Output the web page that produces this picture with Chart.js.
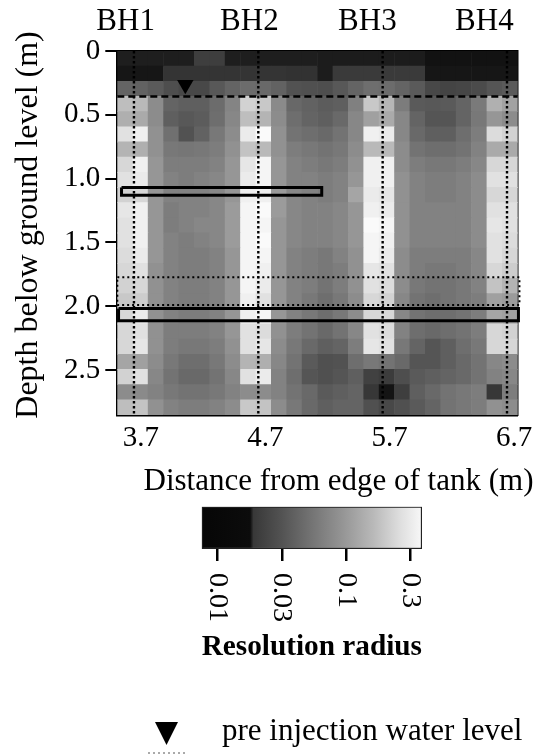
<!DOCTYPE html>
<html>
<head>
<meta charset="utf-8">
<script src="https://cdn.jsdelivr.net/npm/chart.js@4.4.1/dist/chart.umd.min.js"></script>
<style>
  html, body { margin: 0; padding: 0; background: #fff; }
  #wrap { position: relative; width: 550px; height: 754px; }
  #wrap canvas { position: absolute; left: 0; }
  #main { top: 0; }
  #bar { top: 480px; }
</style>
</head>
<body>
<div id="wrap">
  <canvas id="main" width="550" height="754"></canvas>
  <canvas id="bar" width="550" height="200"></canvas>
</div>
<script>
// Borehole positions along the tank and their header labels
const boreholes = ["BH1", "BH2", "BH3", "BH4"];
const boreholeX = [3.7, 4.7, 5.7, 6.7];
const boreholeLabelX = [3.633, 4.628, 5.577, 6.518];

const distanceTicks = [3.7, 4.7, 5.7, 6.7];
const depthTicks = [0, 0.5, 1.0, 1.5, 2.0, 2.5];
const depthLabels = ["0", "0.5", "1.0", "1.5", "2.0", "2.5"];

// colour bar (resolution radius, log scale)
const radiusRange = [0.00752, 0.39];
const radiusTicks = [0.01, 0.0316, 0.1, 0.316];
const radiusLabels = ["0.01", "0.03", "0.1", "0.3"];

// model cell extents (m)
const gridLeft = 3.566, gridRight = 6.786, gridBottom = 2.853;

// markers and outlined zones (distance m, depth m)
const waterLevel = { x: 4.113, y: 0.265 };
const dashedDepth = 0.357;
const box1 = { x1: 3.600, x2: 5.210, y1: 1.070, y2: 1.130 };
const box2 = { x1: 3.576, x2: 6.792, y1: 2.018, y2: 2.114 };
const dottedBox = { x1: 3.566, x2: 6.800, y1: 1.774, y2: 1.990 };

// grey level of each cell, rows from surface down, columns left to right
const shade = [
  [30,30,30,30,30,62,62,30,30,30,30,30,30,28,28,28,28,28,28,28,18,18,18,18,18,18],
  [22,22,22,52,52,52,52,52,52,52,52,50,50,28,58,58,58,58,58,58,22,22,22,22,22,22],
  [100,98,90,78,72,72,88,100,108,105,98,82,80,78,88,100,110,108,100,90,72,68,70,75,85,90],
  [190,185,140,100,95,95,108,132,210,200,138,104,98,92,95,128,200,182,124,90,88,90,100,122,176,162],
  [175,170,140,95,88,92,110,135,190,180,140,110,100,95,105,135,160,170,135,100,85,85,100,120,150,140],
  [225,240,145,112,82,98,120,140,235,250,145,115,110,105,115,135,240,235,135,105,95,95,110,125,220,210],
  [180,175,145,120,118,120,125,145,195,185,145,125,120,115,120,140,185,185,140,115,110,110,115,130,170,170],
  [215,240,150,125,125,125,130,150,230,245,150,130,125,120,125,145,240,240,140,125,120,120,125,135,215,215],
  [225,235,150,130,125,130,135,150,235,245,150,130,130,125,130,150,240,240,145,130,125,125,130,140,225,225],
  [210,215,150,130,130,130,135,150,240,240,155,135,130,125,130,165,235,230,145,130,125,125,130,140,215,215],
  [230,240,150,125,130,130,135,155,245,250,155,135,130,130,135,150,240,235,145,130,130,130,130,140,225,225],
  [225,240,150,125,130,135,135,155,245,245,150,135,130,130,135,150,250,245,145,130,130,130,130,140,230,225],
  [225,240,150,130,125,130,135,155,245,250,150,135,130,130,135,150,245,240,145,130,130,130,130,140,225,220],
  [220,235,150,130,125,125,130,150,245,245,150,130,125,120,130,145,245,235,140,125,125,125,125,135,225,215],
  [215,225,145,130,125,125,130,150,245,240,150,130,125,120,125,145,230,225,140,125,120,120,125,135,215,205],
  [210,215,145,130,125,125,130,150,245,235,150,130,125,115,125,145,225,220,140,120,115,115,120,130,195,180],
  [200,205,145,130,125,125,130,150,240,225,150,130,120,110,120,140,215,210,135,115,110,115,120,125,160,155],
  [215,235,145,130,125,125,130,150,240,245,150,130,120,110,120,140,215,215,135,115,110,110,115,125,165,160],
  [215,225,145,125,125,125,130,150,225,220,145,125,115,105,115,135,225,220,130,110,105,110,115,125,215,210],
  [215,230,145,125,120,120,125,145,225,230,140,120,105,95,100,125,230,225,120,100,85,95,110,120,215,215],
  [165,160,140,120,110,110,120,140,180,175,135,115,90,80,82,110,120,115,105,85,85,95,105,115,135,140],
  [210,225,135,115,105,105,115,135,225,235,130,110,85,80,85,95,65,60,78,90,95,100,105,115,130,135],
  [140,138,130,120,115,115,120,130,140,140,130,115,105,90,95,100,55,20,62,95,105,115,120,125,55,125],
  [190,195,145,130,125,125,130,140,200,195,140,120,105,95,100,100,80,72,80,90,100,115,120,125,145,140]
];

const serif = '"Liberation Serif", "Times New Roman", serif';
Chart.defaults.font.family = serif;
Chart.defaults.color = "#000";

const nRows = shade.length, nCols = shade[0].length;
const cellW = (gridRight - gridLeft) / nCols;
const cellH = gridBottom / nRows;

const cells = [];
shade.forEach((row, j) => {
  row.forEach((g, i) => {
    cells.push({ x: gridLeft + (i + 0.5) * cellW, y: (j + 0.5) * cellH, g: g });
  });
});

function outline(b) {
  return [
    { x: b.x1, y: b.y1 }, { x: b.x2, y: b.y1 }, { x: b.x2, y: b.y2 },
    { x: b.x1, y: b.y2 }, { x: b.x1, y: b.y1 }
  ];
}

function lineSet(data, width, dash) {
  return {
    type: "line", data: data, showLine: true, pointRadius: 0,
    borderColor: "#000", borderWidth: width, borderDash: dash || [],
    borderCapStyle: "butt", fill: false, clip: false, order: 0
  };
}

const datasets = [
  {
    label: "water level",
    data: [waterLevel],
    pointStyle: "triangle", rotation: 180, pointRadius: 9.5,
    pointBackgroundColor: "#000", pointBorderWidth: 0, order: 0
  },
  lineSet(outline(box1), 3),
  lineSet(outline(box2), 3),
  lineSet(outline(dottedBox), 2, [2, 3]),
  lineSet([{ x: gridLeft, y: dashedDepth }, { x: gridRight, y: dashedDepth }], 2.5, [7, 4])
];
boreholeX.forEach(bx => {
  datasets.push(lineSet([{ x: bx, y: 0 }, { x: bx, y: gridBottom }], 2.4, [2.4, 2.6]));
});
datasets.push({
  label: "cells",
  data: cells,
  pointStyle: "rect",
  pointBorderWidth: 0,
  pointBackgroundColor: ctx => `rgb(${ctx.raw.g},${ctx.raw.g},${ctx.raw.g})`,
  pointRadius: ctx => {
    const s = ctx.chart.scales;
    const w = Math.abs(s.x.getPixelForValue(gridLeft + cellW) - s.x.getPixelForValue(gridLeft));
    const h = Math.abs(s.y.getPixelForValue(cellH) - s.y.getPixelForValue(0));
    return (Math.max(w, h) + 0.6) / Math.SQRT2;
  },
  order: 10
});

// x title (sits right of centre in the original) and legend below the colour bar
const textPlugin = {
  id: "extraText",
  afterDraw(chart) {
    const ctx = chart.ctx, area = chart.chartArea;
    ctx.save();
    ctx.fillStyle = "#000";
    ctx.font = "31px " + serif;
    ctx.textAlign = "center";
    ctx.textBaseline = "alphabetic";
    ctx.fillText("Distance from edge of tank (m)", (area.left + area.right) / 2 + 21, area.bottom + 75);

    ctx.beginPath();
    ctx.moveTo(155, 722);
    ctx.lineTo(178, 722);
    ctx.lineTo(166.5, 745);
    ctx.closePath();
    ctx.fill();
    ctx.textAlign = "left";
    ctx.fillText("pre injection water level", 222, 740);
    ctx.strokeStyle = "#aaa";
    ctx.lineWidth = 2;
    ctx.setLineDash([2, 3]);
    ctx.beginPath();
    ctx.moveTo(148, 753);
    ctx.lineTo(186, 753);
    ctx.stroke();
    ctx.restore();
  }
};

new Chart(document.getElementById("main"), {
  type: "scatter",
  data: { datasets: datasets },
  options: {
    responsive: false,
    animation: false,
    events: [],
    layout: { padding: { left: 0, right: 0, top: 0, bottom: 249 } },
    plugins: { legend: { display: false }, tooltip: { enabled: false } },
    scales: {
      x: {
        type: "linear", position: "bottom", min: gridLeft, max: gridRight,
        afterBuildTicks: s => { s.ticks = distanceTicks.map(v => ({ value: v })); },
        afterFit: s => { s.height = 90; },
        ticks: { font: { size: 29 }, padding: 6, labelOffset: 7, callback: (v, i) => distanceTicks[i].toFixed(1) },
        grid: { display: false, drawTicks: false },
        border: { display: true, color: "#000", width: 2.5 }
      },
      x2: {
        type: "linear", position: "top", min: gridLeft, max: gridRight,
        afterBuildTicks: s => { s.ticks = boreholeLabelX.map(v => ({ value: v })); },
        afterFit: s => { s.height = 51; },
        ticks: { font: { size: 31 }, padding: 11, callback: (v, i) => boreholes[i] },
        grid: { display: false, drawTicks: false },
        border: { display: true, color: "#000", width: 2.5 }
      },
      y: {
        type: "linear", position: "left", reverse: true, min: 0, max: gridBottom,
        afterBuildTicks: s => { s.ticks = depthTicks.map(v => ({ value: v })); },
        afterFit: s => { s.width = 117.3; },
        ticks: { font: { size: 29 }, padding: 5, callback: (v, i) => depthLabels[i] },
        grid: { drawOnChartArea: false, drawTicks: true, tickLength: 12, color: "#000", lineWidth: 2 },
        border: { display: true, color: "#000", width: 2.5 },
        title: { display: true, text: "\u00a0\u00a0Depth below ground level (m)", font: { size: 32 }, padding: { top: 9, bottom: 0 } }
      },
      y2: {
        type: "linear", position: "right", reverse: true, min: 0, max: gridBottom,
        afterFit: s => { s.width = 32.3; },
        ticks: { display: false },
        grid: { display: false, drawTicks: false },
        border: { display: true, color: "#000", width: 2.5 }
      }
    }
  },
  plugins: [textPlugin]
});

// colour bar
const barStops = [
  [0, "#060606"], [0.22, "#0c0c0c"], [0.235, "#383838"], [0.36, "#525252"],
  [0.5, "#747474"], [0.64, "#959595"], [0.78, "#b9b9b9"], [0.9, "#dedede"], [1, "#f8f8f8"]
];

const rotatedLabels = {
  id: "rotatedLabels",
  afterDraw(chart) {
    const s = chart.scales.x, ctx = chart.ctx;
    ctx.save();
    ctx.font = "28px " + serif;
    ctx.fillStyle = "#000";
    ctx.textAlign = "left";
    ctx.textBaseline = "middle";
    radiusTicks.forEach((v, i) => {
      ctx.save();
      ctx.translate(s.getPixelForValue(v), chart.chartArea.bottom + 24);
      ctx.rotate(Math.PI / 2);
      ctx.fillText(radiusLabels[i], 0, 0);
      ctx.restore();
    });
    ctx.restore();
  }
};

new Chart(document.getElementById("bar"), {
  type: "bar",
  data: {
    labels: [""],
    datasets: [{
      data: [radiusRange],
      backgroundColor: ctx => {
        const area = ctx.chart.chartArea;
        if (!area) return "#888";
        const g = ctx.chart.ctx.createLinearGradient(area.left, 0, area.right, 0);
        barStops.forEach(st => g.addColorStop(st[0], st[1]));
        return g;
      },
      borderColor: "#222",
      borderWidth: 1.5,
      borderSkipped: false,
      barPercentage: 1,
      categoryPercentage: 1
    }]
  },
  options: {
    indexAxis: "y",
    responsive: false,
    animation: false,
    events: [],
    layout: { padding: { left: 201.7, right: 128, top: 26.7, bottom: 0 } },
    plugins: { legend: { display: false }, tooltip: { enabled: false } },
    scales: {
      x: {
        type: "logarithmic", position: "bottom", min: radiusRange[0], max: radiusRange[1],
        afterBuildTicks: s => { s.ticks = radiusTicks.map(v => ({ value: v })); },
        afterFit: s => { s.height = 131; },
        ticks: { display: false },
        grid: { drawOnChartArea: false, drawTicks: true, tickLength: 12, color: "#000", lineWidth: 2.5 },
        border: { display: false },
        title: { display: true, text: "Resolution radius", font: { size: 30, weight: "bold" }, padding: { top: 0, bottom: 15 } }
      },
      y: { display: false }
    }
  },
  plugins: [rotatedLabels]
});
</script>
</body>
</html>
